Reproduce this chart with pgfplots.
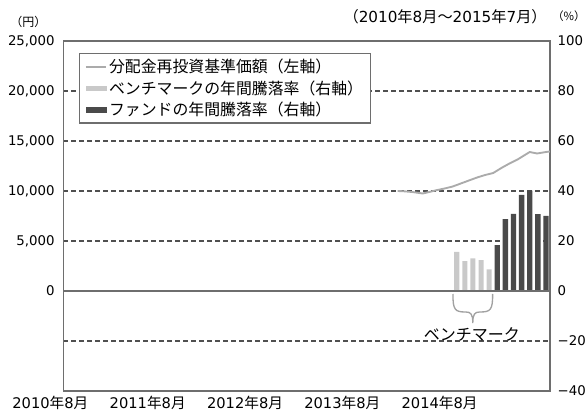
\documentclass[border=0pt]{standalone}
\usepackage{fontspec}
\setmainfont{DejaVu Sans}
\newfontfamily\jp{Noto Sans CJK JP}
\usepackage{pgfplots}
\pgfplotsset{compat=1.18}

\definecolor{axgray}{HTML}{6E6E6E}
\definecolor{txt}{HTML}{2E2E2E}
\definecolor{bench}{HTML}{C9C9C9}
\definecolor{fund}{HTML}{4A4A4A}
\definecolor{navline}{HTML}{ABABAB}
\definecolor{dashc}{HTML}{505050}

\pgfplotsset{
  barlegend/.style={legend image code/.code={\fill[##1] (0pt,-2pt) rectangle (16pt,2pt);}},
  linelegend/.style={legend image code/.code={\draw[##1] (0pt,0pt) -- (15pt,0pt);}},
}

% 年月ラベル
\newcommand{\ym}[2]{#1{\jp 年}#2{\jp 月}}

\begin{document}
\begin{tikzpicture}[font=\color{txt}]
\path[use as bounding box] (-47.6pt,-20.25pt) rectangle (393.4pt,293.25pt);

% 右軸: 騰落率の棒とグリッド、凡例
\begin{axis}[
  scale only axis, width=364.9pt, height=262.5pt,
  xmin=0, xmax=60, ymin=-40, ymax=100,
  axis line style={axgray, line width=1.1pt},
  ytick={-40,-20,...,100},
  yticklabels={−40,−20,0,20,40,60,80,100},
  yticklabel pos=right,
  yticklabel style={anchor=west, inner sep=0pt, xshift=5.5pt, font=\fontsize{10}{11}\selectfont},
  xtick={0,12,24,36,48},
  xticklabels={\ym{2010}{8},\ym{2011}{8},\ym{2012}{8},\ym{2013}{8},\ym{2014}{8}},
  xticklabel style={anchor=north, inner sep=0pt, xshift=-9.8pt, yshift=-4pt, font=\fontsize{11}{12}\selectfont},
  major tick length=0pt,
  ymajorgrids,
  grid style={dashc, line width=0.8pt, dash pattern=on 3.75pt off 2.25pt},
  legend style={at={(0.0319,0.9657)}, anchor=north west, draw=axgray, line width=0.9pt,
    fill=white, font=\jp\fontsize{11.9}{13}\selectfont, inner xsep=4pt, inner ysep=2.5pt,
    row sep=1.5pt, nodes={inner sep=1.5pt}},
  legend cell align=left,
]
\addlegendimage{navline, line width=1.3pt, linelegend}
\addlegendentry{分配金再投資基準価額（左軸）}

% ベンチマークの年間騰落率
\addplot[ybar, bar width=0.62, bar shift=0pt, fill=bench, draw=none, barlegend]
  coordinates {(48.5,15.7) (49.5,12.0) (50.5,13.1) (51.5,12.4) (52.5,8.7)};
\addlegendentry{ベンチマークの年間騰落率（右軸）}

% ファンドの年間騰落率
\addplot[ybar, bar width=0.66, bar shift=0pt, fill=fund, draw=none, barlegend]
  coordinates {(53.5,18.4) (54.5,28.7) (55.5,30.8) (56.5,38.4) (57.5,40.1) (58.5,30.7) (59.5,30.0)};
\addlegendentry{ファンドの年間騰落率（右軸）}

\draw[axgray, line width=1.1pt] (axis cs:0,0) -- (axis cs:60,0);

% 中括弧と注記
\draw[bench!80!black, line width=1pt]
  (axis cs:48.03,-1.2) .. controls (axis cs:48.03,-7.6) and (axis cs:48.27,-8.4) .. (axis cs:49.62,-8.4)
  .. controls (axis cs:50.23,-8.4) and (axis cs:50.48,-9.2) .. (axis cs:50.48,-12.8)
  .. controls (axis cs:50.48,-9.2) and (axis cs:50.72,-8.4) .. (axis cs:51.34,-8.4)
  .. controls (axis cs:52.69,-8.4) and (axis cs:52.93,-7.6) .. (axis cs:52.93,-1.2);
\node[font=\jp\fontsize{12}{13}\selectfont, inner sep=0pt] at (axis cs:50.37,-17.2) {ベンチマーク};
\end{axis}

% 左軸: 分配金再投資基準価額
\begin{axis}[
  scale only axis, width=364.9pt, height=262.5pt,
  xmin=0, xmax=60, ymin=-10000, ymax=25000,
  axis line style={draw=none},
  xtick=\empty,
  ytick={0,5000,...,25000},
  scaled y ticks=false,
  yticklabel style={anchor=east, inner sep=0pt, xshift=-6.4pt, font=\fontsize{10}{11}\selectfont,
    /pgf/number format/.cd, 1000 sep={,}, assume math mode=true},
  major tick length=0pt,
]
\addplot[navline, line width=1.4pt, line join=round] coordinates {
  (41.2,10000) (42,9970) (43,9900) (44.3,9750) (45,9880) (46,10080) (47,10250)
  (48,10450) (49,10750) (50,11050) (51,11350) (52,11600) (53,11800) (54,12300)
  (55,12750) (56,13150) (57,13650) (57.5,13900) (58.4,13750) (59.5,13900) (60,13950)
};
\end{axis}

\node[font=\jp\fontsize{9}{10}\selectfont, inner sep=0pt] at (-26.25pt,277.1pt) {（円）};
\node[anchor=east, inner sep=0pt, font=\fontsize{11.4}{12}\selectfont] at (362.6pt,280.5pt)
  {{\jp （}\ym{2010}{8}{\jp ～}\ym{2015}{7}{\jp ）}};
\node[anchor=west, inner sep=0pt, font=\jp\fontsize{8.5}{9}\selectfont] at (366.5pt,281pt) {（\%）};
\end{tikzpicture}
\end{document}
